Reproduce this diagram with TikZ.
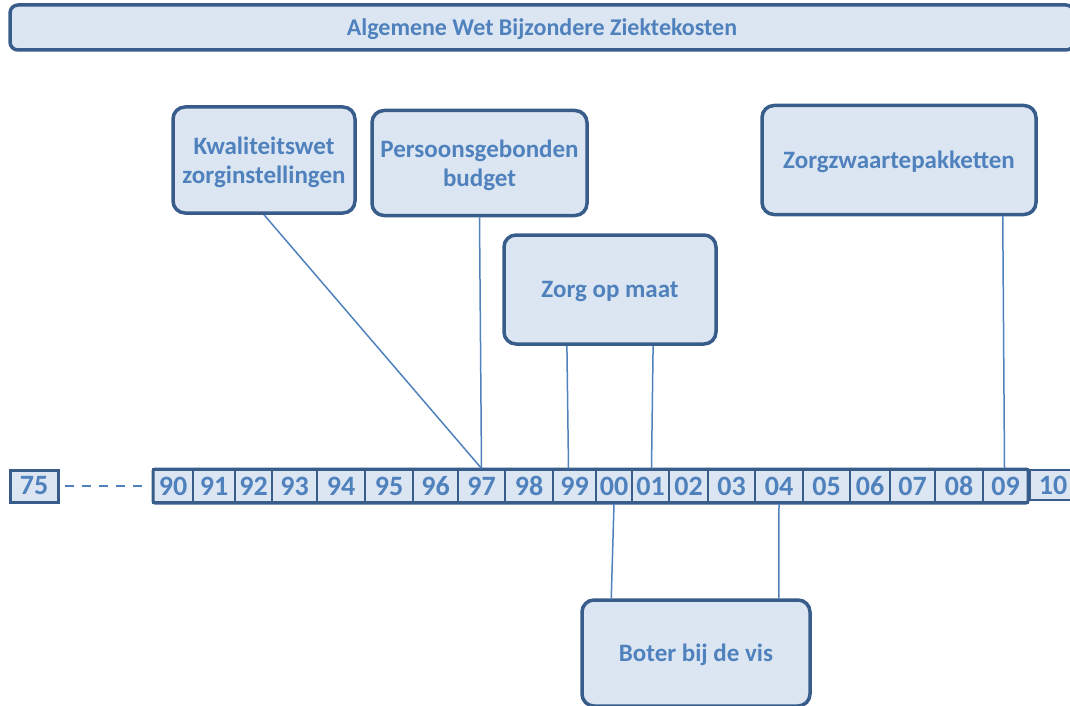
\documentclass[tikz,border=0pt]{standalone}
\usepackage{fontspec}
\setmainfont{Carlito}
\usetikzlibrary{calc}
\definecolor{bord}{HTML}{385D8A}
\definecolor{fillc}{HTML}{DCE6F2}
\definecolor{txt}{HTML}{4F81BD}
\begin{document}
\begin{tikzpicture}[x=1pt,y=-1pt,
  box/.style={draw=bord, line width=3.5pt, fill=fillc, rounded corners=12pt, text=txt,
    font=\bfseries\fontsize{25}{29}\selectfont, align=center, inner sep=0pt, text depth=0pt},
  titlebox/.style={box, rounded corners=8pt, font=\bfseries\fontsize{24}{27}\selectfont},
  cell/.style={draw=bord, line width=2.2pt, fill=fillc, text=txt, inner sep=0pt,
    minimum height=33, font=\bfseries\fontsize{28}{32}\selectfont},
  conn/.style={draw=txt, line width=1.5pt}
]
\useasboundingbox (0,0) rectangle (1070,706);
\clip (0,0) rectangle (1070,706);

% title bar
\node[titlebox, minimum width=1064, minimum height=45] (title) at (542,27.5)
  {Algemene Wet Bijzondere Ziektekosten};

% boxes
\node[box, minimum width=182, minimum height=106] (kw) at (264,160) {Kwaliteitswet\\zorginstellingen};
\node[box, minimum width=215, minimum height=105] (pb) at (479.5,163) {Persoonsgebonden\\budget};
\node[box, minimum width=212, minimum height=109] (zm) at (610,289.5) {Zorg op maat};
\node[box, minimum width=274, minimum height=109] (zz) at (899,160) {Zorgzwaartepakketten};
\node[box, minimum width=228, minimum height=106] (bv) at (696,653) {Boter bij de vis};

% timeline
\node[cell, minimum width=48, minimum height=32, line width=3pt] (c75) at (34,486) {75};
\fill[fillc] (153,469) rectangle (1028,503);
\foreach \lab/\l/\r in {90/153/193, 91/193/235, 92/235/272, 93/272/317, 94/317/365,
  95/365/413, 96/413/458, 97/458/505, 98/505/553, 99/553/596, 00/596/632, 01/632/669,
  02/669/708, 03/708/755, 04/755/803, 05/803/850, 06/850/890, 07/890/935, 08/935/983,
  09/983/1028}
  \node[cell, minimum width={\r-\l}] (c\lab) at ({(\l+\r)/2},486) {\lab};
\draw[bord, line width=3pt, rounded corners=2pt] (153,469) rectangle (1028,503);
\node[cell, minimum width=46, minimum height=30] (c10) at (1053,485) {10};

\draw[txt, line width=2pt, dash pattern=on 9pt off 8pt, shorten <=5pt, shorten >=6pt]
  (c75.east) -- (c90.west);

% connectors
\draw[conn] (kw.south) -- (c97.north);
\draw[conn] (pb.south) -- (c97.north);
\draw[conn] ($(zm.south west)!0.30!(zm.south east)$) -- ($(c99.north)+(-6,0)$);
\draw[conn] ($(zm.south west)!0.70!(zm.south east)$) -- ($(c01.north)+(1,0)$);
\draw[conn] ($(zz.south east)+(-35,0)$) -- ($(c09.north)+(-1,0)$);
\draw[conn] (c00.south) -- ($(bv.north west)+(31,0)$);
\draw[conn] (c04.south) -- ($(bv.north east)+(-33,0)$);
\end{tikzpicture}
\end{document}
